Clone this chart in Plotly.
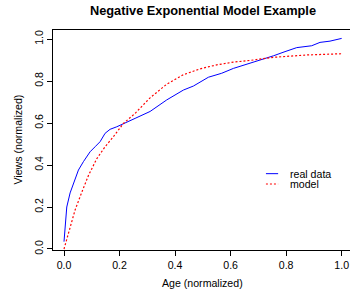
import plotly.graph_objects as go

# Real data
real_x = [0.0, 0.004, 0.01, 0.022, 0.034, 0.052, 0.07, 0.094, 0.112, 0.13, 0.148, 0.166, 0.19,
          0.214, 0.256, 0.31, 0.37, 0.43, 0.466, 0.52, 0.568, 0.61, 0.67, 0.694, 0.754, 0.796,
          0.838, 0.892, 0.922, 0.958, 1.0]
real_y = [0.035, 0.124, 0.20, 0.267, 0.314, 0.376, 0.416, 0.463, 0.487, 0.511, 0.551, 0.570, 0.582,
          0.598, 0.622, 0.655, 0.71, 0.757, 0.776, 0.818, 0.837, 0.86, 0.884, 0.895, 0.92, 0.94,
          0.959, 0.968, 0.984, 0.99, 1.003]

# Model curve
model_x = [0.0, 0.022, 0.04, 0.064, 0.088, 0.118, 0.148, 0.178, 0.214, 0.256, 0.298, 0.31, 0.37,
           0.43, 0.49, 0.55, 0.61, 0.67, 0.754, 0.874, 1.0]
model_y = [0.0, 0.106, 0.186, 0.27, 0.35, 0.43, 0.487, 0.535, 0.598, 0.646, 0.70, 0.72, 0.785,
           0.83, 0.858, 0.877, 0.89, 0.898, 0.913, 0.924, 0.93]

tick_vals = [0.0, 0.2, 0.4, 0.6, 0.8, 1.0]
tick_text = ["0.0", "0.2", "0.4", "0.6", "0.8", "1.0"]

FONT = "Liberation Sans, Arial, Helvetica, sans-serif"

fig = go.Figure()
fig.add_trace(go.Scatter(x=real_x, y=real_y, mode="lines", name="real data",
                         line=dict(color="#0000FF", width=1), showlegend=False))
fig.add_trace(go.Scatter(x=model_x, y=model_y, mode="lines", name="model",
                         line=dict(color="#FF0000", width=1.2, dash="2px,2px"), showlegend=False))

fig.update_layout(
    width=350, height=296,
    margin=dict(l=53, r=0, t=30, b=46, autoexpand=False),
    paper_bgcolor="white", plot_bgcolor="white",
    font=dict(family=FONT, size=10.6, color="black"),
    title=dict(text="<b>Negative Exponential Model Example</b>", x=0.505, xref="paper",
               xanchor="center", y=1 - 11 / 296, yanchor="middle",
               font=dict(family=FONT, size=12.8, color="black")),
    xaxis=dict(range=[-0.0396, 1.030], tickvals=tick_vals, ticktext=tick_text, automargin=False,
               showgrid=False, zeroline=False, showline=True, linecolor="black", linewidth=1,
               mirror=True, ticks="outside", ticklen=5, tickcolor="black", tickwidth=1,
               tickfont=dict(size=10.6, color="black")),
    yaxis=dict(range=[-0.0048, 1.043], tickvals=tick_vals, ticktext=tick_text, automargin=False,
               showgrid=False, zeroline=False, showline=True, linecolor="black", linewidth=1,
               mirror=False, ticks="outside", ticklen=5, tickcolor="black", tickwidth=1,
               tickangle=-90, tickfont=dict(size=10.6, color="black")),
    showlegend=False,
)

# Axis titles
fig.add_annotation(text="Age (normalized)", xref="paper", yref="paper", x=0.505, y=-0.149,
                   xanchor="center", yanchor="middle", showarrow=False,
                   font=dict(size=10.6, color="black"))
fig.add_annotation(text="Views (normalized)", xref="paper", yref="paper", x=-0.1195, y=0.5,
                   xanchor="center", yanchor="middle", textangle=-90, showarrow=False,
                   font=dict(size=10.6, color="black"))

# Manual legend (R style, no box)
legend_items = [("real data", "#0000FF", "solid", 0.347), ("model", "#FF0000", "2px,2px", 0.300)]
for label, color, dash, yy in legend_items:
    fig.add_shape(type="line", xref="paper", yref="paper", x0=0.717, x1=0.758, y0=yy, y1=yy,
                  line=dict(color=color, width=1, dash=dash))
    fig.add_annotation(text=label, xref="paper", yref="paper", x=0.791, y=yy,
                       xanchor="left", yanchor="middle", showarrow=False,
                       font=dict(size=10.6, color="black"))

fig.write_html("out.html",
               config={"displayModeBar": False, "staticPlot": True},
               post_script="document.body.style.margin='0';document.body.style.overflow='hidden';")
